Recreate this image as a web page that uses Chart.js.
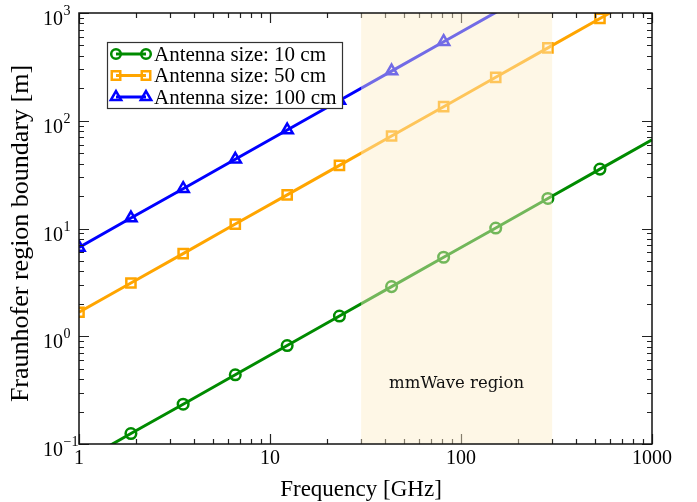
<!DOCTYPE html>
<html>
<head>
<meta charset="utf-8">
<script src="https://cdn.jsdelivr.net/npm/chart.js@4.4.1/dist/chart.umd.min.js"></script>
<style>
  body { margin: 0; background: #fff; }
  canvas { display: block; }
</style>
</head>
<body>
<canvas id="myChart" width="697" height="502"></canvas>
<script>
'use strict';

// frequencies of the plotted markers (GHz), last one only extends the line
let freqGHz = [1, 1.87, 3.51, 6.58, 12.3, 23.1, 43.3, 81.1, 152, 285, 534, 1000];
// Fraunhofer boundary [m] for each antenna size
let size10cm = [0.0667, 0.125, 0.234, 0.439, 0.82, 1.54, 2.89, 5.41, 10.1, 19.0, 35.6, 66.7];
let size50cm = [1.67, 3.12, 5.85, 11.0, 20.5, 38.5, 72.2, 135, 253, 475, 890, 1667];
let size100cm = [6.67, 12.5, 23.4, 43.9, 82.0, 154, 289, 541, 1013, 1900, 3560, 6667];
let seriesLabels = ['Antenna size: 10 cm', 'Antenna size: 50 cm', 'Antenna size: 100 cm'];

let xTickLabels = ['1', '10', '100', '1000'];
let yExponents = [-1, 0, 1, 2, 3];
let mmWaveBand = [30, 300];
let bandLabel = 'mmWave region';

let X_MIN = 1, X_MAX = 1000, Y_MIN = 0.1, Y_MAX = 1000;
let SERIF = '"Liberation Serif", "Times New Roman", serif';

function makeSet(label, values, color, style, radius) {
    return {
        label: label,
        data: freqGHz.map((f, i) => ({ x: f, y: values[i] })),
        borderColor: color,
        borderWidth: 3,
        pointStyle: style,
        pointBorderColor: color,
        pointBackgroundColor: 'rgba(0,0,0,0)',
        pointBorderWidth: 2.5,
        pointRadius: ctx => (ctx.dataIndex === freqGHz.length - 1 || ctx.raw.y > Y_MAX) ? 0 : radius,
        tension: 0
    };
}

let datasets = [
    makeSet(seriesLabels[0], size10cm, '#008b00', 'circle', 5.3),
    makeSet(seriesLabels[1], size50cm, '#ffa500', 'rect', 6.5),
    makeSet(seriesLabels[2], size100cm, '#0000ff', 'triangle', 6.5)
];

function isDecade(v) {
    let l = Math.log10(v);
    return Math.abs(l - Math.round(l)) < 1e-6;
}

function tickValues(min, max) {
    let out = [];
    for (let d = Math.round(Math.log10(min)); d < Math.round(Math.log10(max)); d++) {
        for (let k = 1; k < 10; k++) out.push(k * Math.pow(10, d));
    }
    out.push(max);
    return out;
}

let framePlugin = {
    id: 'frame',
    afterDatasetsDraw(chart) {
        let ctx = chart.ctx;
        let ca = chart.chartArea;
        let xs = chart.scales.x;
        let ys = chart.scales.y;
        ctx.save();

        // inward ticks on all four sides
        ctx.strokeStyle = '#222';
        ctx.lineWidth = 1.2;
        ctx.beginPath();
        tickValues(X_MIN, X_MAX).forEach(v => {
            let px = Math.round(xs.getPixelForValue(v)) + 0.5;
            let len = isDecade(v) ? 10 : 5;
            ctx.moveTo(px, ca.bottom); ctx.lineTo(px, ca.bottom - len);
            ctx.moveTo(px, ca.top); ctx.lineTo(px, ca.top + len);
        });
        tickValues(Y_MIN, Y_MAX).forEach(v => {
            let py = Math.round(ys.getPixelForValue(v)) + 0.5;
            let len = isDecade(v) ? 10 : 5;
            ctx.moveTo(ca.left, py); ctx.lineTo(ca.left + len, py);
            ctx.moveTo(ca.right, py); ctx.lineTo(ca.right - len, py);
        });
        ctx.stroke();

        // translucent mmWave band over the curves
        let x0 = xs.getPixelForValue(mmWaveBand[0]);
        let x1 = xs.getPixelForValue(mmWaveBand[1]);
        ctx.fillStyle = 'rgba(253,237,200,0.45)';
        ctx.fillRect(x0, ca.top, x1 - x0, ca.bottom - ca.top);

        ctx.fillStyle = '#111';
        ctx.font = '16.5px "DejaVu Serif", serif';
        ctx.textAlign = 'center';
        ctx.textBaseline = 'alphabetic';
        ctx.fillText(bandLabel, (x0 + x1) / 2, 388);

        // frame
        ctx.strokeStyle = '#111';
        ctx.lineWidth = 1.5;
        ctx.strokeRect(ca.left, ca.top, ca.right - ca.left, ca.bottom - ca.top);
        ctx.restore();
    },
    afterDraw(chart) {
        let ctx = chart.ctx;
        let ca = chart.chartArea;
        let xs = chart.scales.x;
        let ys = chart.scales.y;
        ctx.save();
        ctx.fillStyle = '#000';

        // x tick labels
        ctx.font = '20px ' + SERIF;
        ctx.textAlign = 'center';
        ctx.textBaseline = 'alphabetic';
        xTickLabels.forEach(t => {
            ctx.fillText(t, xs.getPixelForValue(Number(t)), ca.bottom + 20);
        });

        // y tick labels 10^n
        yExponents.forEach(e => {
            let py = ys.getPixelForValue(Math.pow(10, e));
            ctx.font = '20px ' + SERIF;
            ctx.textAlign = 'right';
            ctx.fillText('10', 63, py + 12);
            ctx.font = '14px ' + SERIF;
            ctx.textAlign = 'left';
            ctx.fillText(e < 0 ? '\u2212' + (-e) : String(e), 63.5, py + 2);
        });

        // axis titles
        ctx.font = '23px ' + SERIF;
        ctx.textAlign = 'center';
        ctx.fillText('Frequency [GHz]', 361, 496);
        ctx.save();
        ctx.translate(28, 233.5);
        ctx.rotate(-Math.PI / 2);
        ctx.font = '26px ' + SERIF;
        ctx.fillText('Fraunhofer region boundary [m]', 0, 0);
        ctx.restore();

        // legend
        let lx = 107, ly = 42, lw = 235, lh = 66;
        ctx.fillStyle = '#fff';
        ctx.fillRect(lx, ly, lw, lh);
        ctx.strokeStyle = '#333';
        ctx.lineWidth = 1.2;
        ctx.strokeRect(lx + 0.5, ly + 0.5, lw, lh);
        chart.data.datasets.forEach((ds, i) => {
            let y = 54 + i * 21.5;
            ctx.strokeStyle = ds.borderColor;
            ctx.lineWidth = 3;
            ctx.beginPath();
            ctx.moveTo(116, y); ctx.lineTo(146, y);
            ctx.stroke();
            ctx.fillStyle = 'rgba(0,0,0,0)';
            ctx.lineWidth = 2.5;
            [116, 146].forEach(px => {
                Chart.helpers.drawPoint(ctx, { pointStyle: ds.pointStyle, radius: ds.pointStyle === 'circle' ? 4.8 : 6, borderWidth: 2.5, rotation: 0 }, px, y);
            });
            ctx.fillStyle = '#000';
            ctx.font = '21px ' + SERIF;
            ctx.textAlign = 'left';
            ctx.textBaseline = 'middle';
            ctx.fillText(ds.label, 154, y + 1);
        });
        ctx.restore();
    }
};

let ctxEl = document.getElementById('myChart').getContext('2d');
let myChart = new Chart(ctxEl, {
    type: 'line',
    data: { datasets: datasets },
    options: {
        responsive: false,
        animation: false,
        layout: { padding: { top: 13, right: 45, left: 0, bottom: 0 } },
        plugins: {
            legend: { display: false },
            tooltip: { enabled: false }
        },
        scales: {
            x: {
                type: 'logarithmic',
                min: X_MIN,
                max: X_MAX,
                grid: { display: false, drawTicks: false },
                border: { display: false },
                ticks: { display: false },
                afterFit: s => { s.height = 58; }
            },
            y: {
                type: 'logarithmic',
                min: Y_MIN,
                max: Y_MAX,
                grid: { display: false, drawTicks: false },
                border: { display: false },
                ticks: { display: false },
                afterFit: s => { s.width = 79; }
            }
        }
    },
    plugins: [framePlugin]
});
</script>
</body>
</html>
